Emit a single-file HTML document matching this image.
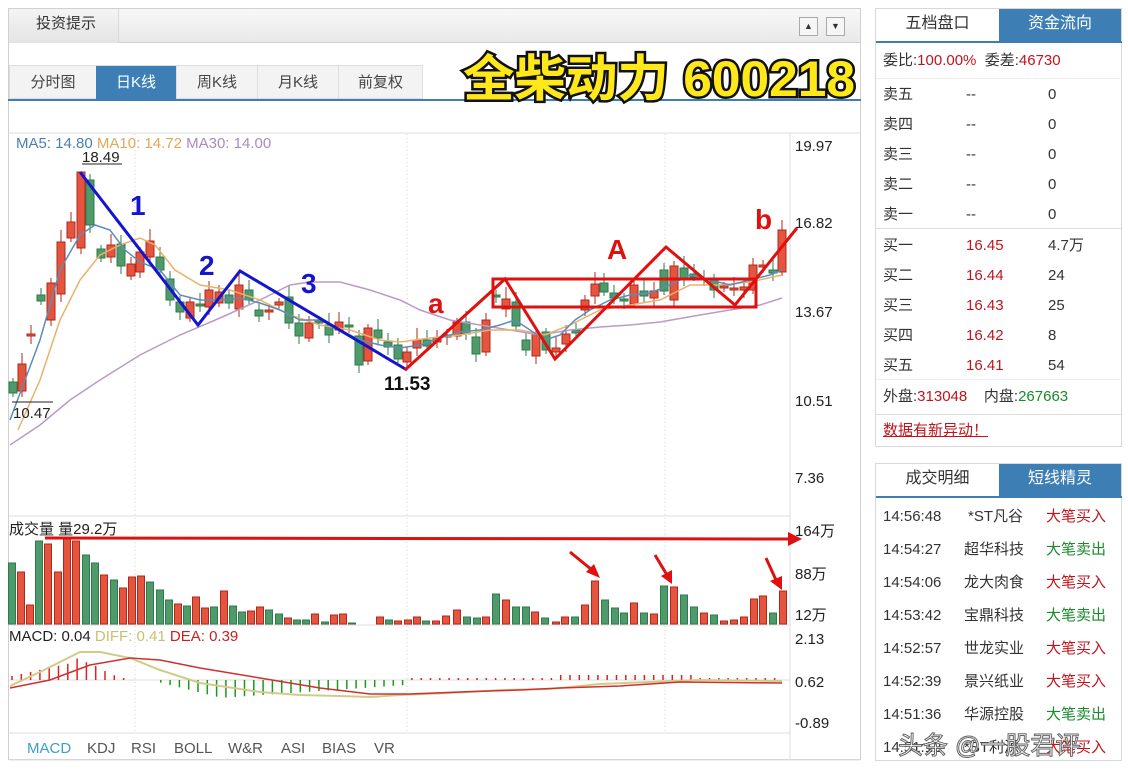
<!DOCTYPE html>
<html><head><meta charset="utf-8">
<style>
*{margin:0;padding:0;box-sizing:border-box}
body{width:1128px;height:771px;background:#fff;font-family:"Liberation Sans","Noto Sans CJK SC",sans-serif;position:relative;overflow:hidden;color:#333}
.a{position:absolute;white-space:nowrap;line-height:20px}
.box{position:absolute;border:1px solid #d8d8d8;background:#fff}
.r{color:#c0141c}.g{color:#1a8a2a}
</style></head><body>
<div class="box" style="left:8px;top:8px;width:853px;height:752px;border-color:#d0d0d0"></div>
<div class="a" style="left:9px;top:9px;width:851px;height:34px;background:linear-gradient(#f8f8f8,#e9e9e9);border-bottom:1px solid #d0d0d0"></div>
<div class="a" style="left:9px;top:9px;width:110px;height:34px;background:linear-gradient(#f4f4f4,#e4e4e4);border-right:1px solid #d8d8d8"></div>
<div class="a" style="left:36px;top:14px;font-size:15px;color:#333">投资提示</div>
<div class="a" style="left:799px;top:17px;width:19px;height:19px;border:1px solid #aaa;background:#f6f6f6;font-size:9px;text-align:center;line-height:17px">▲</div>
<div class="a" style="left:826px;top:17px;width:19px;height:19px;border:1px solid #aaa;background:#f6f6f6;font-size:9px;text-align:center;line-height:17px">▼</div>
<div class="a" style="left:9px;top:65px;width:414px;height:34px;background:#f3f3f3;border:1px solid #ddd"></div>
<div class="a" style="left:10px;top:66px;width:86px;height:33px;text-align:center;line-height:33px;font-size:15px;color:#444">分时图</div>
<div class="a" style="left:96px;top:66px;width:80px;height:33px;text-align:center;line-height:33px;font-size:15px;color:#fff;background:#3d7fb5">日K线</div>
<div class="a" style="left:176px;top:66px;width:81px;height:33px;text-align:center;line-height:33px;font-size:15px;color:#444;border-left:1px solid #ddd">周K线</div>
<div class="a" style="left:257px;top:66px;width:81px;height:33px;text-align:center;line-height:33px;font-size:15px;color:#444;border-left:1px solid #ddd">月K线</div>
<div class="a" style="left:338px;top:66px;width:84px;height:33px;text-align:center;line-height:33px;font-size:15px;color:#444;border-left:1px solid #ddd">前复权</div>
<div class="a" style="left:8px;top:99px;width:853px;height:2px;background:#3d7fb5"></div>

<svg class="a" style="left:0;top:0" width="870" height="771" id="ch" xmlns="http://www.w3.org/2000/svg" font-family="Liberation Sans, Noto Sans CJK SC, sans-serif">
<g stroke="#ddd" fill="none">
<line x1="9" y1="133" x2="860" y2="133"/>
<line x1="9" y1="516" x2="790" y2="516"/>
<line x1="9" y1="625" x2="790" y2="625"/>
<line x1="9" y1="733" x2="790" y2="733"/>
<line x1="790" y1="133" x2="790" y2="760"/>
<line x1="9" y1="680" x2="790" y2="680"/>
<line x1="9" y1="760" x2="860" y2="760"/>
</g>
<g stroke="#ccc" stroke-dasharray="1,3"><line x1="135" y1="134" x2="135" y2="733"/><line x1="407" y1="134" x2="407" y2="733"/><line x1="665" y1="134" x2="665" y2="733"/></g>
<g id="cand"></g>
<polyline fill="none" stroke="#b99bc9" stroke-width="1.5" points="10,445 40,425 70,400 100,380 140,355 180,335 220,318 260,300 290,285 310,282 340,282 370,290 400,300 420,310 450,320 480,325 510,330 540,335 570,330 600,327 630,325 660,322 700,315 730,310 760,305 782,298"/>
<polyline fill="none" stroke="#e8b26a" stroke-width="1.5" points="18,430 40,380 60,320 80,280 100,255 120,245 140,238 155,245 175,270 200,285 230,290 260,300 290,315 320,325 350,330 380,340 400,342 430,338 460,335 490,330 520,330 545,335 570,325 600,310 630,305 660,300 690,285 720,285 750,282 782,275"/>
<polyline fill="none" stroke="#5b8db8" stroke-width="1.5" points="10,420 40,340 60,270 80,235 95,225 110,230 125,250 140,262 160,270 180,295 200,300 220,300 240,298 260,303 280,310 300,320 320,320 340,330 360,340 380,345 400,348 420,345 440,338 460,332 480,330 500,325 515,320 530,330 545,340 560,335 575,320 590,310 610,300 630,295 650,293 670,285 690,275 710,280 730,285 750,280 770,275 782,270"/>
<polyline fill="none" stroke="#1515d0" stroke-width="3" points="80,172 198,325 240,271 407,370"/>
<polyline fill="none" stroke="#e01010" stroke-width="3" points="405,370 505,279 555,359 666,247 735,305 797,228"/>
<rect x="493" y="279" width="263" height="28" fill="none" stroke="#e01010" stroke-width="3"/>
<g font-weight="bold" font-size="28" fill="#1515d0"><text x="130" y="215">1</text><text x="199" y="275">2</text><text x="301" y="293">3</text></g>
<g font-weight="bold" font-size="28" fill="#e01010"><text x="428" y="313">a</text><text x="607" y="259">A</text><text x="755" y="229">b</text></g>
<text x="384" y="390" font-size="19" font-weight="bold" fill="#111">11.53</text>
<text x="82" y="162" font-size="15" fill="#222">18.49</text>
<line x1="82" y1="164" x2="122" y2="164" stroke="#222"/>
<line x1="12" y1="402" x2="53" y2="402" stroke="#222"/>
<text x="13" y="418" font-size="15" fill="#222">10.47</text>
<text x="16" y="148" font-size="15"><tspan fill="#4a7fae">MA5: 14.80 </tspan><tspan fill="#e0a858">MA10: 14.72 </tspan><tspan fill="#a98bbf">MA30: 14.00</tspan></text>
<text x="9" y="534" font-size="15" fill="#222">成交量 量29.2万</text>
<text x="9" y="641" font-size="15"><tspan fill="#222">MACD: 0.04 </tspan><tspan fill="#c8c070">DIFF: 0.41 </tspan><tspan fill="#c82020">DEA: 0.39</tspan></text>
<g id="vol"></g>
<g id="macd"></g>
<polyline fill="none" stroke="#d0cc88" stroke-width="2" points="10,686 40,672 80,652 100,652 130,658 160,670 200,683 260,692 300,695 340,696 370,697 400,695 450,693 500,690 550,689 600,684 650,682 700,680 782,681"/>
<polyline fill="none" stroke="#d03030" stroke-width="1.5" points="10,688 50,680 90,665 130,658 160,660 200,668 260,678 320,688 370,694 410,694 460,692 520,690 560,688 620,686 680,682 782,683"/>
<g stroke="#e01010" stroke-width="3" fill="#e01010">
<line x1="45" y1="538" x2="790" y2="539"/><polygon points="788,532 802,539 788,546" stroke="none"/>
<line x1="570" y1="552" x2="592" y2="570"/><polygon points="586,572 600,578 594,564" stroke="none"/>
<line x1="655" y1="555" x2="667" y2="575"/><polygon points="661,576 672,584 672,570" stroke="none"/>
<line x1="766" y1="558" x2="776" y2="580"/><polygon points="770,581 782,590 782,576" stroke="none"/>
</g>
<g font-size="15" fill="#222"><text x="795" y="151">19.97</text><text x="795" y="228">16.82</text><text x="795" y="317">13.67</text><text x="795" y="406">10.51</text><text x="795" y="483">7.36</text><text x="795" y="536">164万</text><text x="795" y="579">88万</text><text x="795" y="620">12万</text><text x="795" y="644">2.13</text><text x="795" y="687">0.62</text><text x="795" y="728">-0.89</text></g>
<g font-size="15" fill="#555"><text x="27" y="753" fill="#3aa0c8">MACD</text><text x="87" y="753">KDJ</text><text x="131" y="753">RSI</text><text x="174" y="753">BOLL</text><text x="228" y="753">W&amp;R</text><text x="281" y="753">ASI</text><text x="322" y="753">BIAS</text><text x="374" y="753">VR</text></g>
<text x="463" y="96" font-size="50" font-weight="bold" fill="#ffe81a" stroke="#111" stroke-width="5" paint-order="stroke" textLength="392" lengthAdjust="spacingAndGlyphs">全柴动力 600218</text>
</svg>

<div class="box" style="left:875px;top:8px;width:247px;height:439px"></div>
<div class="a" style="left:876px;top:9px;width:123px;height:33px;text-align:center;line-height:30px;font-size:16px;color:#333">五档盘口</div>
<div class="a" style="left:999px;top:9px;width:122px;height:33px;text-align:center;line-height:30px;font-size:16px;color:#fff;background:#3d7fb5">资金流向</div>
<div class="a" style="left:876px;top:41px;width:246px;height:2px;background:#3d7fb5"></div>
<div class="a" style="left:883px;top:51px;font-size:15px">委比:<span class="r">100.00%</span>&nbsp;&nbsp;委差:<span class="r">46730</span></div>
<div class="a" style="left:876px;top:78px;width:246px;height:1px;background:#eee"></div>
<div class="a" style="left:876px;top:228px;width:246px;height:1px;background:#ddd"></div>
<div class="a" style="left:876px;top:379px;width:246px;height:1px;background:#eee"></div>
<div class="a" style="left:876px;top:414px;width:246px;height:1px;background:#ddd"></div>
<div id="ob"></div>
<div class="a" style="left:883px;top:387px;font-size:15px">外盘:<span class="r">313048</span>&nbsp;&nbsp;&nbsp;&nbsp;内盘:<span class="g">267663</span></div>
<div class="a r" style="left:883px;top:421px;font-size:15px;text-decoration:underline">数据有新异动！</div>

<div class="box" style="left:875px;top:463px;width:247px;height:298px"></div>
<div class="a" style="left:876px;top:464px;width:123px;height:33px;text-align:center;line-height:30px;font-size:16px;color:#333">成交明细</div>
<div class="a" style="left:999px;top:464px;width:122px;height:33px;text-align:center;line-height:30px;font-size:16px;color:#fff;background:#3d7fb5">短线精灵</div>
<div class="a" style="left:876px;top:496px;width:246px;height:2px;background:#3d7fb5"></div>
<div id="tr"></div>
<div class="a" style="left:898px;top:732px;font-size:25px;line-height:28px;color:#fff;-webkit-text-stroke:1px #666">头条 @一股君评</div>

<script>
var NS="http://www.w3.org/2000/svg";
function el(p,t,a){var e=document.createElementNS(NS,t);for(var k in a)e.setAttribute(k,a[k]);p.appendChild(e);return e;}
var R="#e5543f",RS="#b0281a",G="#4f9a6a",GS="#2f7a4a";
var C=[[13,382,393,'g'],[22,364,391,'r'],[31,334,336,'r'],[41,295,301,'g'],[51,283,320,'r'],[61,242,294,'r'],[71,222,238,'r'],[81,172,248,'r'],[90,180,225,'g'],[101,249,258,'g'],[111,245,257,'r'],[121,244,266,'g'],[131,264,276,'r'],[140,252,272,'r'],[150,241,257,'r'],[160,257,270,'g'],[170,279,300,'g'],[180,302,312,'g'],[190,302,318,'r'],[200,304,306,'g'],[209,290,307,'r'],[219,292,303,'r'],[229,295,303,'g'],[239,285,309,'r'],[249,290,300,'g'],[259,310,316,'g'],[269,310,312,'r'],[279,302,305,'r'],[289,297,323,'g'],[299,323,336,'g'],[309,323,338,'r'],[319,321,323,'g'],[329,325,335,'g'],[339,322,330,'r'],[349,325,327,'g'],[359,336,365,'g'],[368,328,361,'r'],[378,330,338,'g'],[388,342,347,'g'],[398,345,359,'g'],[407,352,362,'r'],[417,340,348,'r'],[427,340,346,'g'],[437,338,342,'r'],[447,335,337,'r'],[457,322,336,'r'],[466,322,334,'g'],[476,337,354,'g'],[486,320,352,'r'],[496,295,297,'g'],[506,299,309,'r'],[516,302,326,'g'],[526,340,350,'g'],[536,334,356,'r'],[546,332,350,'g'],[556,348,352,'r'],[566,334,344,'r'],[576,330,333,'g'],[585,300,310,'r'],[595,284,296,'r'],[604,283,292,'g'],[614,293,298,'g'],[624,299,301,'g'],[634,285,304,'r'],[644,291,296,'g'],[654,291,298,'r'],[664,270,291,'g'],[674,266,300,'r'],[684,268,278,'g'],[694,274,277,'g'],[704,278,280,'g'],[714,280,290,'g'],[724,286,288,'r'],[734,288,290,'r'],[744,287,290,'r'],[753,265,290,'r'],[763,265,267,'r'],[773,270,273,'g'],[782,230,272,'r']];
var cg=document.getElementById('cand');
C.forEach(function(c,i){var r=c[3]=='r';var w=4+((i*7)%9);
el(cg,'line',{x1:c[0],x2:c[0],y1:c[1]-(i==7?0:w),y2:c[2]+4+(i%3)*2,stroke:r?RS:GS});
el(cg,'rect',{x:c[0]-4,y:c[1],width:8,height:Math.max(1,c[2]-c[1]),fill:r?R:G,stroke:r?RS:GS});});
var V=[[12,563,'g'],[21,572,'r'],[30,605,'r'],[39,541,'g'],[48,544,'r'],[58,572,'r'],[67,538,'r'],[76,541,'r'],[86,555,'g'],[95,563,'g'],[104,575,'r'],[114,580,'g'],[123,588,'r'],[132,577,'r'],[141,576,'r'],[150,582,'g'],[160,590,'g'],[169,600,'g'],[178,604,'r'],[187,606,'g'],[196,597,'r'],[205,608,'r'],[214,607,'g'],[224,591,'r'],[233,606,'g'],[242,612,'g'],[251,611,'r'],[260,607,'r'],[269,610,'g'],[279,614,'g'],[288,618,'r'],[297,620,'g'],[306,620,'g'],[315,614,'r'],[325,622,'g'],[334,615,'r'],[343,614,'r'],[352,623,'g'],[361,624,'g'],[371,624,'g'],[380,617,'r'],[389,620,'g'],[398,621,'r'],[408,620,'r'],[417,617,'r'],[426,621,'g'],[436,621,'r'],[446,616,'r'],[457,610,'r'],[467,617,'g'],[477,618,'g'],[486,617,'r'],[496,594,'g'],[506,600,'r'],[516,607,'g'],[526,607,'g'],[535,612,'r'],[545,618,'g'],[556,622,'r'],[565,617,'r'],[575,617,'g'],[585,605,'r'],[595,581,'r'],[605,600,'g'],[615,608,'g'],[624,613,'g'],[634,603,'r'],[644,613,'g'],[654,614,'r'],[664,586,'g'],[674,587,'r'],[684,595,'g'],[694,607,'g'],[704,613,'r'],[714,615,'g'],[724,621,'r'],[734,620,'r'],[744,617,'r'],[754,599,'r'],[763,596,'r'],[773,613,'g'],[783,591,'r']];
var vg=document.getElementById('vol');
V.forEach(function(v){var r=v[2]=='r';el(vg,'rect',{x:v[0]-3.5,y:v[1],width:7,height:624-v[1],fill:r?R:G,stroke:r?RS:GS});});
var mg=document.getElementById('macd');
for(var x=12;x<=782;x+=9.3){var h;if(x<125){h=-(4+(x-12)*0.22);if(x>70)h=-(22-(x-76)*0.4);if(x>100)h=-Math.max(2,22-(x-76)*0.45);}
else if(x<150)h=0;else if(x<410){h=(x<220?(x-150)*0.25:18-(x-220)*0.07);}else h=(x>560&&x<700)?-5:-2;
if(Math.abs(h)<0.5)continue;el(mg,'line',{x1:x,x2:x,y1:680,y2:680+h,stroke:h<0?'#e02020':'#1a9a1a','stroke-width':1.5});}
var ob=document.getElementById('ob'),rows=[['卖五','--','0',0],['卖四','--','0',0],['卖三','--','0',0],['卖二','--','0',0],['卖一','--','0',0],['买一','16.45','4.7万',1],['买二','16.44','24',1],['买三','16.43','25',1],['买四','16.42','8',1],['买五','16.41','54',1]];
var h='';rows.forEach(function(r,i){var y=85+i*30+(i>=5?1:0);h+='<div class="a" style="left:883px;top:'+y+'px;font-size:15px">'+r[0]+'</div><div class="a'+(r[3]?' r':'')+'" style="left:966px;top:'+y+'px;font-size:15px">'+r[1]+'</div><div class="a" style="left:1048px;top:'+y+'px;font-size:15px">'+r[2]+'</div>';});ob.innerHTML=h;
var T=[['14:56:48','*ST凡谷',1],['14:54:27','超华科技',0],['14:54:06','龙大肉食',1],['14:53:42','宝鼎科技',0],['14:52:57','世龙实业',1],['14:52:39','景兴纸业',1],['14:51:36','华源控股',0],['14:51:12','*ST利源',1]];
h='';T.forEach(function(t,i){var y=507+i*33;h+='<div class="a" style="left:883px;top:'+y+'px;font-size:15px">'+t[0]+'</div><div class="a" style="left:'+(i==0?968:964)+'px;top:'+y+'px;font-size:15px">'+t[1]+'</div><div class="a '+(t[2]?'r':'g')+'" style="left:1046px;top:'+y+'px;font-size:15px">'+(t[2]?'大笔买入':'大笔卖出')+'</div>';});document.getElementById('tr').innerHTML=h;
</script>
</body></html>
